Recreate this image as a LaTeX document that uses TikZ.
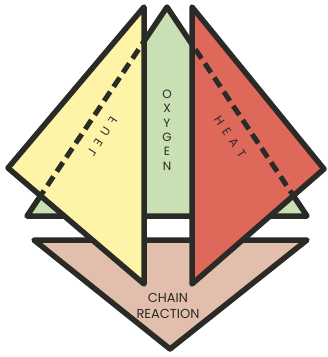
\documentclass[tikz,border=0pt]{standalone}
\usepackage{fontspec}
\usepackage{graphicx}
\setmainfont{Poppins}
\definecolor{ink}{HTML}{2A2A27}
\definecolor{yellowc}{HTML}{FEF4A8}
\definecolor{greenc}{HTML}{C8E0B4}
\definecolor{redc}{HTML}{DE695B}
\definecolor{chainc}{HTML}{E2BFAC}
\begin{document}
\begin{tikzpicture}[x=1pt,y=-1pt,
  face/.style={draw=ink, line width=5.5pt, line join=round},
  hidden/.style={draw=ink, line width=5pt, dash pattern=on 11pt off 6pt},
  lbl/.style={font=\fontsize{12}{14.4}\selectfont, text=ink, inner sep=0pt},
  biglbl/.style={font=\fontsize{13}{16}\selectfont, text=ink, inner sep=0pt, align=center}]
\useasboundingbox (0,0) rectangle (328,357);
% vertices
\coordinate (C1) at (34,240);
\coordinate (C2) at (307,240);
\coordinate (C3) at (170,349);
\coordinate (G1) at (167,7);
\coordinate (G2) at (27,216);
\coordinate (G3) at (307,216);
\coordinate (Y1) at (144,7);
\coordinate (Y2) at (8,168);
\coordinate (Y3) at (144,284);
\coordinate (R1) at (192,7);
\coordinate (R2) at (324,169);
\coordinate (R3) at (192,284);
% chain reaction
\draw[face, fill=chainc] (C1) -- (C2) -- (C3) -- cycle;
% oxygen
\draw[face, fill=greenc] (G1) -- (G2) -- (G3) -- cycle;
% fuel
\fill[yellowc] (Y1) -- (Y2) -- (Y3) -- cycle;
\begin{scope}
  \clip (Y1) -- (Y2) -- (Y3) -- cycle;
  \draw[hidden] (G1) -- (G2);
\end{scope}
\draw[face] (Y1) -- (Y2) -- (Y3) -- cycle;
% heat
\fill[redc] (R1) -- (R2) -- (R3) -- cycle;
\begin{scope}
  \clip (R1) -- (R2) -- (R3) -- cycle;
  \draw[hidden] (G1) -- (G3);
\end{scope}
\draw[face] (R1) -- (R2) -- (R3) -- cycle;
% labels
\node[lbl, align=center] (oxygen) at (167,130) {O\\X\\Y\\G\\E\\N};
\node[lbl, rotate=-56.5] (heat) at (228.5,134.5) {\addfontfeature{LetterSpace=50}HEAT\kern-0.5em};
\node[lbl, rotate=56.5] (fuel) at (104,134) {\scalebox{-1}[1]{\addfontfeature{LetterSpace=50}FUEL\kern-0.5em}};
\node[biglbl] (chain) at (168,306) {CHAIN\\REACTION};
\end{tikzpicture}
\end{document}
